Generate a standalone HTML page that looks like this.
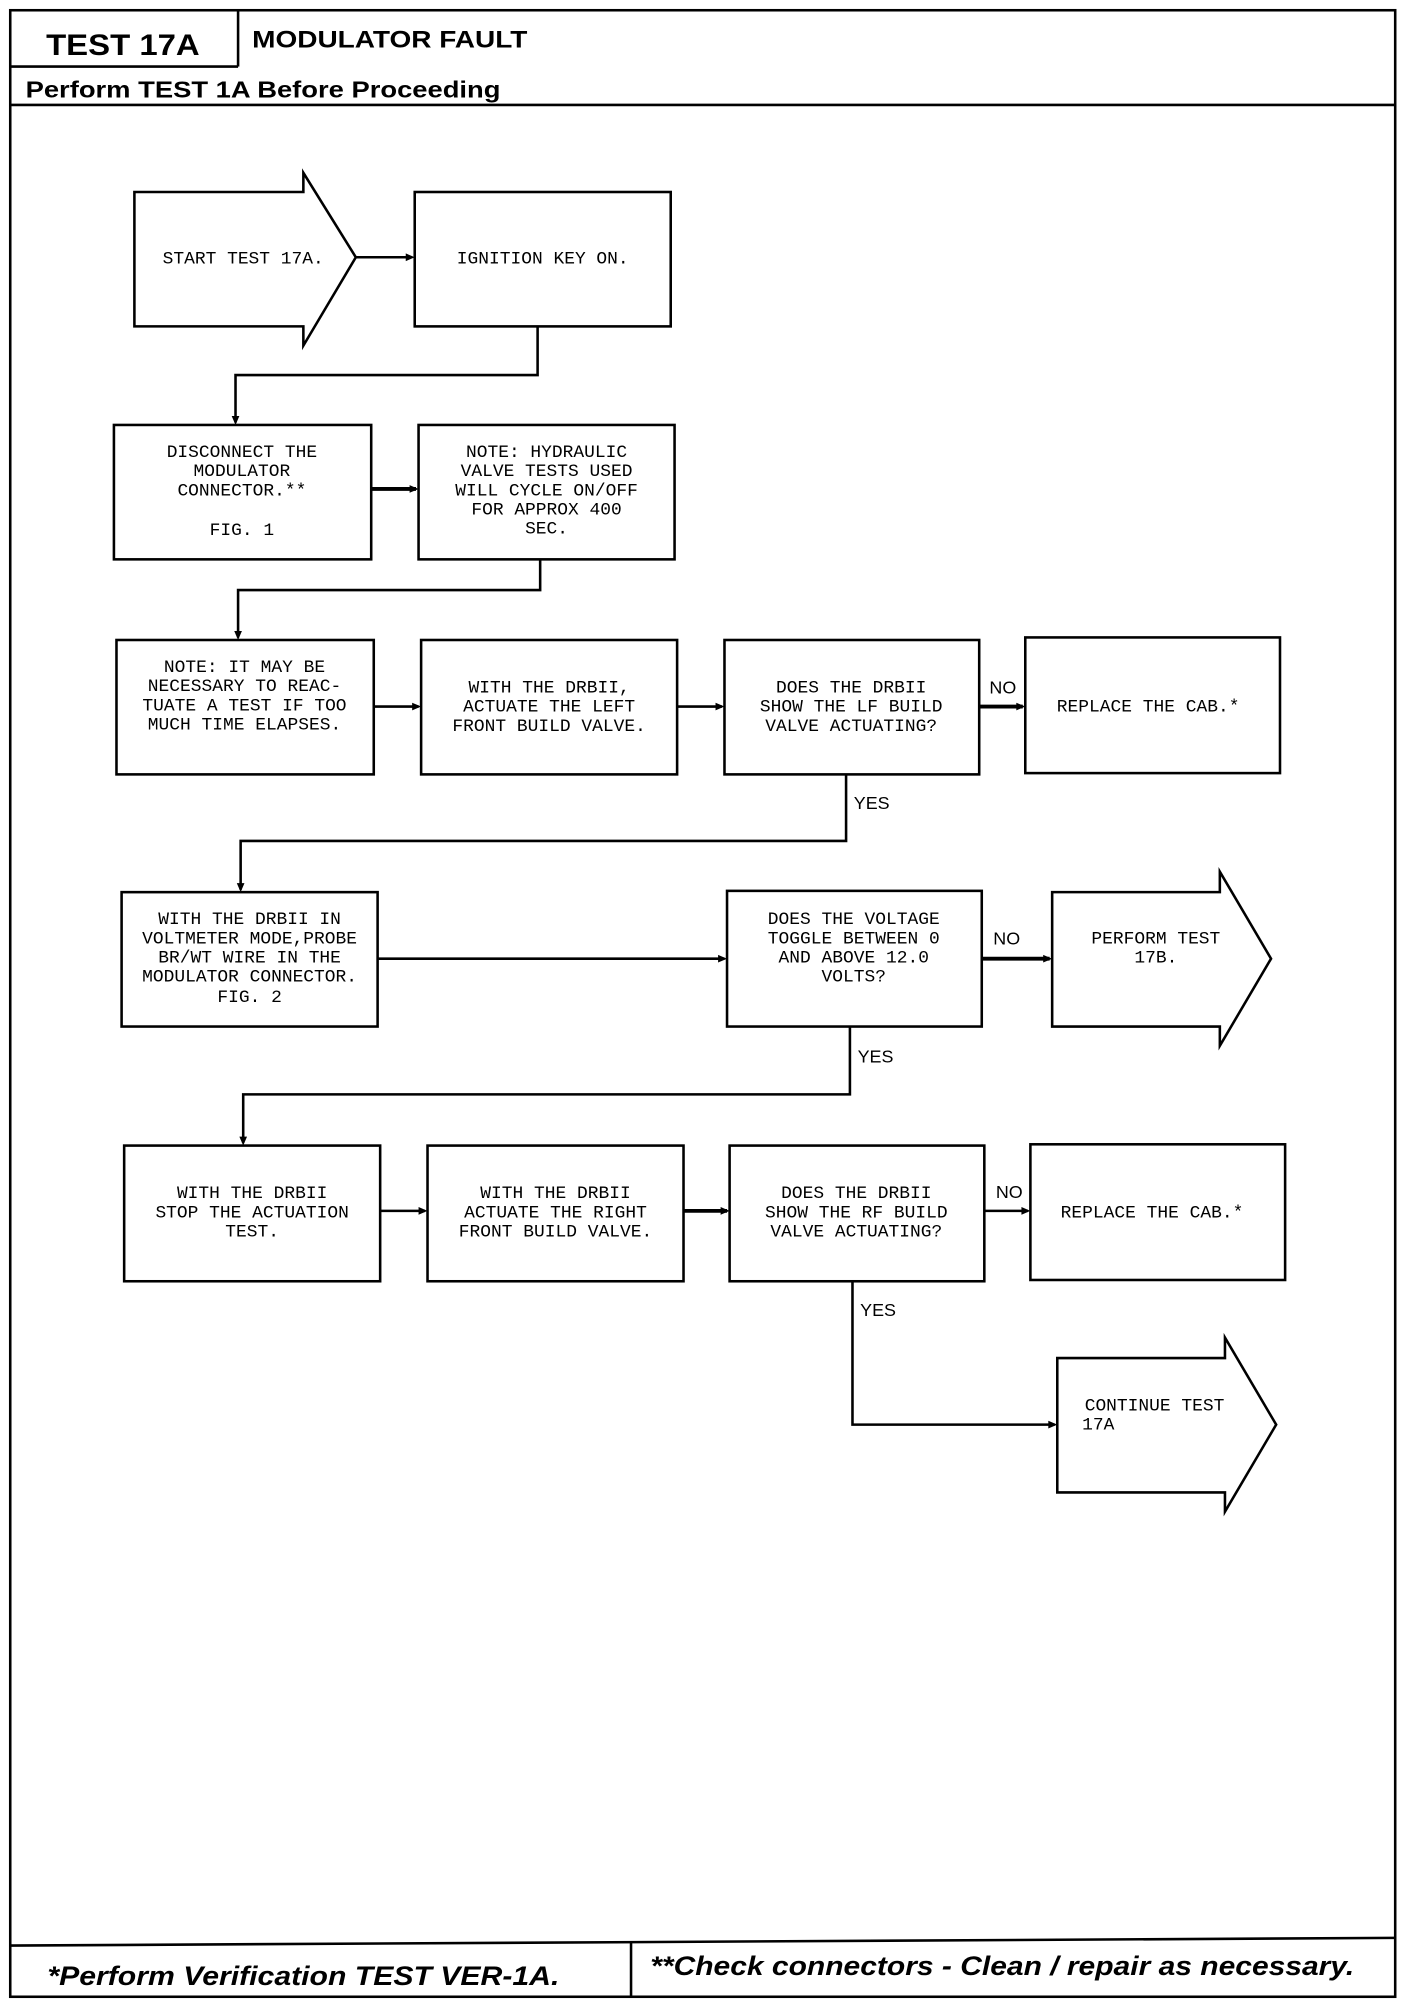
<!DOCTYPE html>
<html><head><meta charset="utf-8"><style>
html,body{margin:0;padding:0;background:#fff;}
svg{display:block;}
.t{font-family:"Liberation Mono",monospace;font-size:14px;fill:#000;text-anchor:middle;}
.l{font-family:"Liberation Sans",sans-serif;font-size:14px;fill:#000;}
</style></head><body>
<svg width="1408" height="2012" viewBox="0 0 1100 1571.9" preserveAspectRatio="none" xmlns="http://www.w3.org/2000/svg">
<g fill="none" stroke="#000" stroke-width="2">
<rect x="8" y="8" width="1082" height="1552"/>
<line x1="186" y1="8" x2="186" y2="52"/>
<line x1="8" y1="52" x2="186" y2="52"/>
<line x1="8" y1="82" x2="1090" y2="82"/>
<line x1="8" y1="1520" x2="1090" y2="1514"/>
<line x1="493" y1="1518" x2="493" y2="1560"/>
<polygon points="105,150 237,150 237,135 278,201 237,270 237,255 105,255"/>
<rect x="324" y="150" width="200" height="105"/>
<rect x="89" y="332" width="201" height="105"/>
<rect x="327" y="332" width="200" height="105"/>
<rect x="91" y="500" width="201" height="105"/>
<rect x="329" y="500" width="200" height="105"/>
<rect x="566" y="500" width="199" height="105"/>
<rect x="801" y="498" width="199" height="106"/>
<rect x="95" y="697" width="200" height="105"/>
<rect x="568" y="696" width="199" height="106"/>
<polygon points="822,697 953,697 953,681 993,749 953,817 953,802 822,802"/>
<rect x="97" y="895" width="200" height="106"/>
<rect x="334" y="895" width="200" height="106"/>
<rect x="570" y="895" width="199" height="106"/>
<rect x="805" y="894" width="199" height="106"/>
<polygon points="826,1061 957,1061 957,1045 997,1113 957,1181 957,1166 826,1166"/>
<polyline points="278,201 322,201"/>
<polyline points="420,255 420,293 184,293 184,330"/>
<polyline points="290,382 325,382" stroke-width="3"/>
<polyline points="422,437 422,461 186,461 186,498"/>
<polyline points="292,552 327,552"/>
<polyline points="529,552 564,552"/>
<polyline points="765,552 799,552" stroke-width="3"/>
<polyline points="661,605 661,657 188,657 188,695"/>
<polyline points="295,749 566,749"/>
<polyline points="767,749 820,749" stroke-width="3"/>
<polyline points="664,802 664,855 190,855 190,893"/>
<polyline points="297,946 332,946"/>
<polyline points="534,946 568,946" stroke-width="3"/>
<polyline points="769,946 803,946"/>
<polyline points="666,1001 666,1113 824,1113"/>
</g>
<g fill="#000">
<polygon points="324,201 317,198 317,204"/>
<polygon points="184,332 181,325 187,325"/>
<polygon points="327,382 320,379 320,385"/>
<polygon points="186,500 183,493 189,493"/>
<polygon points="329,552 322,549 322,555"/>
<polygon points="566,552 559,549 559,555"/>
<polygon points="801,552 794,549 794,555"/>
<polygon points="188,697 185,690 191,690"/>
<polygon points="568,749 561,746 561,752"/>
<polygon points="822,749 815,746 815,752"/>
<polygon points="190,895 187,888 193,888"/>
<polygon points="334,946 327,943 327,949"/>
<polygon points="570,946 563,943 563,949"/>
<polygon points="805,946 798,943 798,949"/>
<polygon points="826,1113 819,1110 819,1116"/>
</g>
<text x="36" y="43" font-family="Liberation Sans,sans-serif" font-weight="bold" font-size="23" textLength="120" lengthAdjust="spacingAndGlyphs">TEST 17A</text>
<text x="197" y="37" font-family="Liberation Sans,sans-serif" font-weight="bold" font-size="19" textLength="215" lengthAdjust="spacingAndGlyphs">MODULATOR FAULT</text>
<text x="20" y="76" font-family="Liberation Sans,sans-serif" font-weight="bold" font-size="18" textLength="371" lengthAdjust="spacingAndGlyphs">Perform TEST 1A Before Proceeding</text>
<text x="37" y="1551" font-family="Liberation Sans,sans-serif" font-weight="bold" font-style="italic" font-size="21" textLength="400" lengthAdjust="spacingAndGlyphs">*Perform Verification TEST VER-1A.</text>
<text x="508" y="1543" font-family="Liberation Sans,sans-serif" font-weight="bold" font-style="italic" font-size="21" textLength="550" lengthAdjust="spacingAndGlyphs">**Check connectors - Clean / repair as necessary.</text>
<g class="t">
<text x="190" y="206">START TEST 17A.</text>
<text x="424" y="206">IGNITION KEY ON.</text>
<text x="189" y="357">DISCONNECT THE</text>
<text x="189" y="372">MODULATOR</text>
<text x="189" y="387">CONNECTOR.**</text>
<text x="189" y="418">FIG. 1</text>
<text x="427" y="357">NOTE:  HYDRAULIC</text>
<text x="427" y="372">VALVE TESTS USED</text>
<text x="427" y="387">WILL CYCLE ON/OFF</text>
<text x="427" y="402">FOR APPROX 400</text>
<text x="427" y="417">SEC.</text>
<text x="191" y="525">NOTE:  IT MAY BE</text>
<text x="191" y="540">NECESSARY TO REAC-</text>
<text x="191" y="555">TUATE A TEST IF TOO</text>
<text x="191" y="570">MUCH TIME ELAPSES.</text>
<text x="429" y="541">WITH THE DRBII,</text>
<text x="429" y="556">ACTUATE THE LEFT</text>
<text x="429" y="571">FRONT BUILD VALVE.</text>
<text x="665" y="541">DOES THE DRBII</text>
<text x="665" y="556">SHOW THE LF BUILD</text>
<text x="665" y="571">VALVE ACTUATING?</text>
<text x="897" y="556">REPLACE THE CAB.*</text>
<text x="195" y="722">WITH THE DRBII IN</text>
<text x="195" y="737">VOLTMETER MODE,PROBE</text>
<text x="195" y="752">BR/WT WIRE IN THE</text>
<text x="195" y="767">MODULATOR CONNECTOR.</text>
<text x="195" y="783">FIG. 2</text>
<text x="667" y="722">DOES THE VOLTAGE</text>
<text x="667" y="737">TOGGLE BETWEEN 0</text>
<text x="667" y="752">AND ABOVE 12.0</text>
<text x="667" y="767">VOLTS?</text>
<text x="903" y="737">PERFORM TEST</text>
<text x="903" y="752">17B.</text>
<text x="197" y="936">WITH THE DRBII</text>
<text x="197" y="951">STOP THE ACTUATION</text>
<text x="197" y="966">TEST.</text>
<text x="434" y="936">WITH THE DRBII</text>
<text x="434" y="951">ACTUATE THE RIGHT</text>
<text x="434" y="966">FRONT BUILD VALVE.</text>
<text x="669" y="936">DOES THE DRBII</text>
<text x="669" y="951">SHOW THE RF BUILD</text>
<text x="669" y="966">VALVE ACTUATING?</text>
<text x="900" y="951">REPLACE THE CAB.*</text>
<text x="902" y="1102">CONTINUE TEST</text>
<text x="858" y="1117">17A</text>
</g>
<g class="l">
<text x="773" y="542">NO</text>
<text x="667" y="632">YES</text>
<text x="776" y="738">NO</text>
<text x="670" y="830">YES</text>
<text x="778" y="936">NO</text>
<text x="672" y="1028">YES</text>
</g>
</svg>
</body></html>
